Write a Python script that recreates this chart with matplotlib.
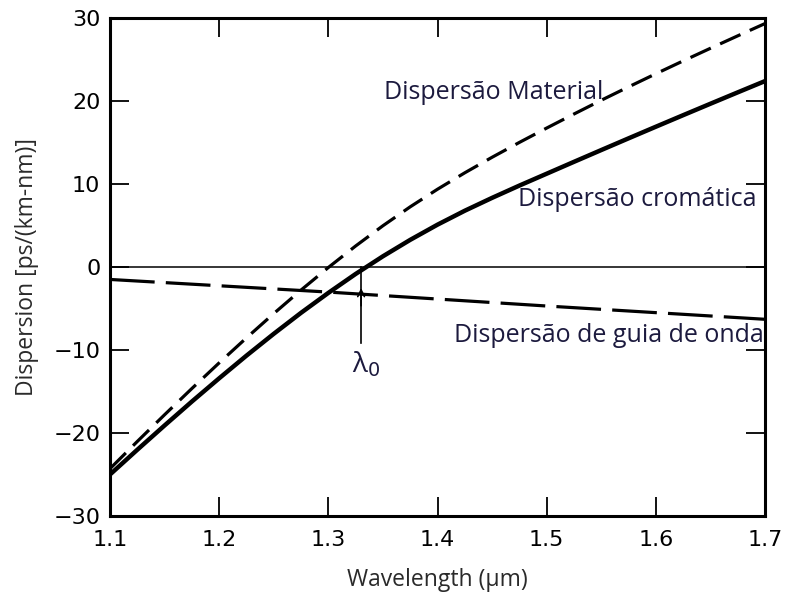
import matplotlib
matplotlib.use("Agg")
import matplotlib.pyplot as plt

# Data
wavelength = [1.100, 1.125, 1.150, 1.175, 1.200, 1.225, 1.250, 1.275, 1.300, 1.325,
              1.350, 1.375, 1.400, 1.425, 1.450, 1.475, 1.500, 1.525, 1.550, 1.575,
              1.600, 1.625, 1.650, 1.675, 1.700]
material = [-24.30, -21.02, -17.80, -14.64, -11.55, -8.54, -5.61, -2.78, -0.06, 2.53,
            4.97, 7.25, 9.37, 11.35, 13.22, 15.01, 16.74, 18.43, 20.09, 21.70,
            23.28, 24.83, 26.35, 27.85, 29.33]
chromatic = [-25.00, -22.02, -19.09, -16.21, -13.41, -10.68, -8.05, -5.52, -3.12, -0.84,
             1.29, 3.27, 5.10, 6.78, 8.33, 9.81, 11.24, 12.67, 14.09, 15.50,
             16.90, 18.29, 19.67, 21.04, 22.40]
waveguide = [-1.50, -1.69, -1.88, -2.07, -2.26, -2.45, -2.64, -2.83, -3.02, -3.23,
             -3.44, -3.65, -3.86, -4.07, -4.28, -4.49, -4.70, -4.90, -5.10, -5.30,
             -5.50, -5.70, -5.90, -6.10, -6.30]
lambda0 = 1.33
xticks = [1.1, 1.2, 1.3, 1.4, 1.5, 1.6, 1.7]
xticklabels = ["1.1", "1.2", "1.3", "1.4", "1.5", "1.6", "1.7"]
yticks = [-30, -20, -10, 0, 10, 20, 30]
yticklabels = ["\u221230", "\u221220", "\u221210", "0", "10", "20", "30"]

label_color = "#1c1a3e"

fig = plt.figure(figsize=(7.85, 5.99), dpi=100)
ax = fig.add_axes([110/785, 1-516/599, 655/785, 498/599])

ax.plot(wavelength, material, color="black", lw=2.3, dashes=(7, 3.2), solid_capstyle="butt")
ax.plot(wavelength, chromatic, color="black", lw=3.2, solid_joinstyle="round")
ax.plot(wavelength, waveguide, color="black", lw=2.3, dashes=(14, 3.5))
ax.axhline(0, color="black", lw=1.1)

ax.set_xlim(1.1, 1.7)
ax.set_ylim(-30, 30)
ax.set_xticks(xticks)
ax.set_xticklabels(xticklabels)
ax.set_yticks(yticks)
ax.set_yticklabels(yticklabels)

ax.tick_params(direction="in", length=14, width=1.3, top=True, right=True,
               labelsize=16, colors="black")
ax.tick_params(axis="x", pad=10)
ax.tick_params(axis="y", pad=7)
for s in ax.spines.values():
    s.set_linewidth(2.2)

ax.set_xlabel("Wavelength (\u03bcm)", fontsize=16.5, family="Open Sans", color="#2a2a2a", labelpad=13)
ax.set_ylabel("Dispersion [ps/(km-nm)]", fontsize=16.5, family="Open Sans", color="#2a2a2a", labelpad=10)

tfont = dict(fontsize=18, family="Open Sans", color=label_color)
ax.text(1.351, 21.0, "Dispers\u00e3o Material", ha="left", va="center", **tfont)
ax.text(1.692, 8.1, "Dispers\u00e3o crom\u00e1tica", ha="right", va="center", **tfont)
ax.text(1.699, -8.2, "Dispers\u00e3o de guia de onda", ha="right", va="center", **tfont)

# lambda0 arrow
ax.plot([lambda0, lambda0], [-9.2, 0], color="black", lw=1.2)
ax.annotate("", xy=(lambda0, -2.2), xytext=(lambda0, -5.0),
            arrowprops=dict(arrowstyle="->", color="black", lw=1.2, mutation_scale=12))
ax.text(lambda0 + 0.005, -11.7, "\u03bb$_0$", ha="center", va="center", fontsize=20,
        family="Open Sans", color=label_color)

fig.savefig("out.png", dpi=100)
